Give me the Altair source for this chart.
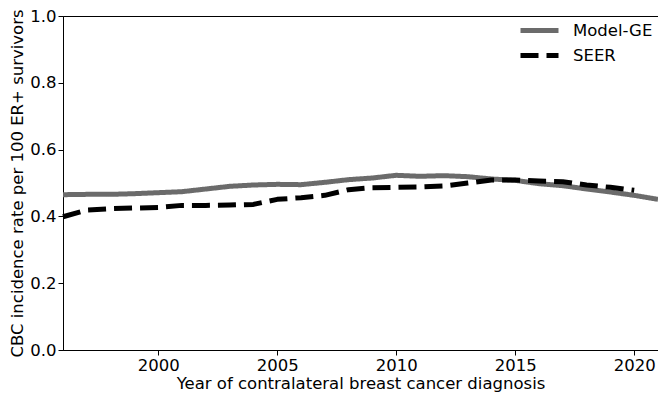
import altair as alt
import pandas as pd

years_model = list(range(1996, 2022))
model_ge = [0.465, 0.466, 0.466, 0.468, 0.471, 0.474, 0.482, 0.490, 0.494, 0.496,
            0.495, 0.502, 0.510, 0.515, 0.523, 0.520, 0.522, 0.519, 0.512, 0.508,
            0.498, 0.492, 0.482, 0.473, 0.463, 0.451]

years_seer = list(range(1996, 2021))
seer = [0.399, 0.419, 0.423, 0.425, 0.427, 0.433, 0.433, 0.434, 0.436, 0.451,
        0.456, 0.463, 0.480, 0.486, 0.487, 0.488, 0.491, 0.500, 0.509, 0.509,
        0.506, 0.504, 0.494, 0.487, 0.478]

series_names = ["Model-GE", "SEER"]
x_ticks = [2000, 2005, 2010, 2015, 2020]
y_ticks = [0.0, 0.2, 0.4, 0.6, 0.8, 1.0]

df = pd.concat([
    pd.DataFrame({"year": years_model, "rate": model_ge, "series": series_names[0]}),
    pd.DataFrame({"year": years_seer, "rate": seer, "series": series_names[1]}),
])

FONT = "DejaVu Sans"

chart = alt.Chart(df).mark_line(strokeWidth=5, strokeCap="butt", strokeJoin="round").encode(
    x=alt.X("year:Q",
            scale=alt.Scale(domain=[1996, 2021], nice=False, zero=False),
            axis=alt.Axis(values=x_ticks, format="d", grid=False,
                          title="Year of contralateral breast cancer diagnosis")),
    y=alt.Y("rate:Q",
            scale=alt.Scale(domain=[0, 1], nice=False),
            axis=alt.Axis(values=y_ticks, format=".1f", grid=False,
                          title="CBC incidence rate per 100 ER+ survivors")),
    color=alt.Color("series:N",
                    scale=alt.Scale(domain=series_names, range=["#6b6b6b", "#000000"]),
                    legend=alt.Legend(title=None, orient="none", legendX=464.5, legendY=2.5,
                                      symbolType="M-2,0H2", symbolSize=361,
                                      symbolStrokeWidth=5, labelFontSize=16.5,
                                      labelFont=FONT, labelColor="black",
                                      rowPadding=3, labelOffset=21.5)),
    strokeDash=alt.StrokeDash("series:N",
                              scale=alt.Scale(domain=series_names, range=[[1, 0], [18, 8]]),
                              legend=alt.Legend(title=None)),
    order="year:Q",
).properties(
    width=595, height=334,
    autosize=alt.AutoSizeParams(type="none"),
    padding={"left": 55, "top": 8, "right": 0, "bottom": 43},
).configure_view(
    stroke="black", strokeWidth=1
).configure_axis(
    domainColor="black", tickColor="black", tickSize=5, domainWidth=1,
    labelFont=FONT, titleFont=FONT, labelFontSize=16.5, titleFontSize=16.5,
    labelColor="black", titleColor="black", titleFontWeight="normal",
    labelPadding=2,
).configure_axisY(
    titlePadding=4
).configure_axisX(
    titlePadding=2
)

chart.save("out.html", embed_options={"renderer": "svg", "actions": False})
